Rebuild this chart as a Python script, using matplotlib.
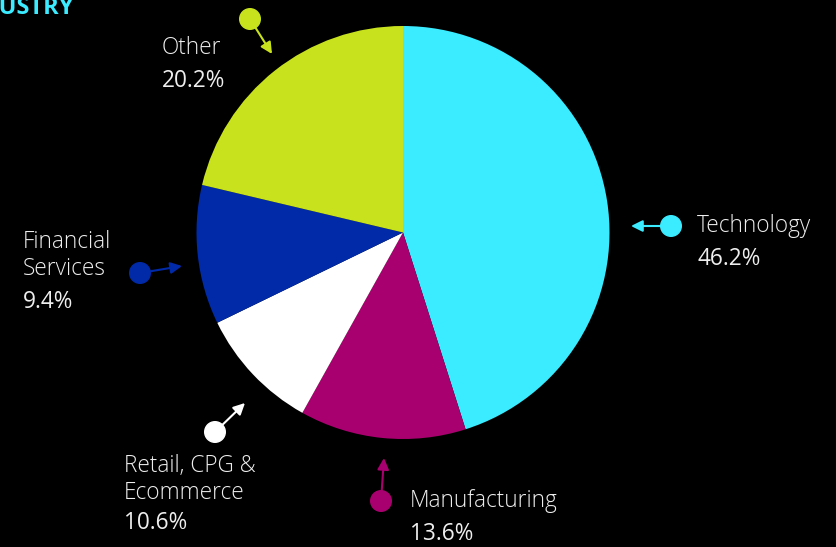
import matplotlib
matplotlib.use("Agg")
import matplotlib.pyplot as plt

# ── Data ────────────────────────────────────────────────────────────────────
labels = ["Technology", "Manufacturing", "Retail, CPG &\nEcommerce", "Financial\nServices", "Other"]
pct_labels = ["46.2%", "13.6%", "10.6%", "9.4%", "20.2%"]
# slice sizes as actually drawn in the picture (measured from the wedge angles)
slice_sizes = [45.1, 13.0, 9.7, 10.9, 21.3]
colors = ["#3BEBFF", "#A8006E", "#FFFFFF", "#002AA8", "#C8E31E"]

W, H = 836, 547
BG = "#000000"

def py(y):
    # pixel row (top-down) -> data y
    return H - y

fig = plt.figure(figsize=(W / 100, H / 100), dpi=100, facecolor=BG)
ax = fig.add_axes([0, 0, 1, 1])
ax.set_facecolor(BG)

# ── Pie ─────────────────────────────────────────────────────────────────────
ax.pie(slice_sizes, colors=colors, startangle=90, counterclock=False,
       center=(403, py(232.5)), radius=206.5, frame=True,
       wedgeprops=dict(linewidth=0))
ax.set_xlim(0, W)
ax.set_ylim(0, H)
ax.set_aspect("equal")
ax.axis("off")

# ── Callout dots + arrows (dot pos, arrow tip) ─────────────────────────────
callouts = [
    ((671, 226), (631, 226)),   # Technology
    ((381, 501), (384, 458)),   # Manufacturing
    ((215, 432), (245, 403)),   # Retail
    ((140, 273), (182, 266)),   # Financial
    ((250, 19), (272, 54)),     # Other
]
for (dot, tip), c in zip(callouts, colors):
    ax.annotate("", xy=(tip[0], py(tip[1])), xytext=(dot[0], py(dot[1])),
                arrowprops=dict(arrowstyle="-|>", color=c, lw=1.5,
                                mutation_scale=17, shrinkA=0, shrinkB=0))
    ax.add_patch(plt.Circle((dot[0], py(dot[1])), 10.3, color=c, zorder=5))

# ── Labels (x, y of first line, y of percent) ──────────────────────────────
label_pos = [
    (697, 226, 259),
    (410, 501, 534),
    (124, 466, 523),
    (23, 242, 302),
    (162, 48, 81),
]
font = dict(family=["Open Sans", "DejaVu Sans"], color="#EEEEEE")
for lab, pct, (x, y0, yp) in zip(labels, pct_labels, label_pos):
    for i, line in enumerate(lab.split("\n")):
        ax.text(x, py(y0 + i * 27), line, fontsize=16.3, fontweight="light",
                va="center", ha="left", **font)
    ax.text(x, py(yp), pct, fontsize=16.3, va="center", ha="left", **font)

# ── Title (cropped at the left edge, as in the source) ─────────────────────
ax.text(74, py(8), "INDUSTRY", fontsize=17, fontweight="bold", color="#3BEBFF",
        family=["Open Sans", "DejaVu Sans"], ha="right", va="center")

fig.savefig("out.png", dpi=100, facecolor=BG)
